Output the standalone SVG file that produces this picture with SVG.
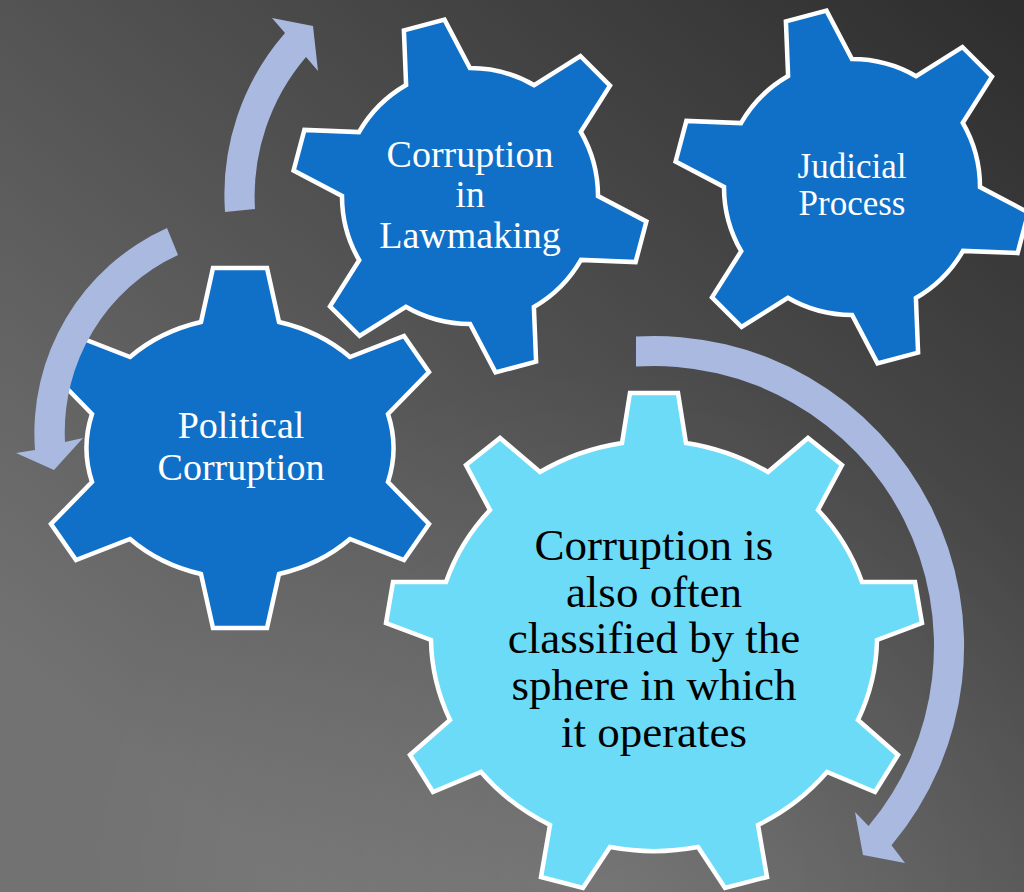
<svg xmlns="http://www.w3.org/2000/svg" width="1024" height="892" viewBox="0 0 1024 892">
<defs>
<linearGradient id="bg" gradientUnits="userSpaceOnUse" x1="1024" y1="0" x2="300" y2="892">
<stop offset="0" stop-color="#2d2d2d"/>
<stop offset="1" stop-color="#727272"/>
</linearGradient>
<radialGradient id="glow" gradientUnits="userSpaceOnUse" cx="620" cy="900" r="540">
<stop offset="0" stop-color="#ffffff" stop-opacity="0.10"/>
<stop offset="1" stop-color="#ffffff" stop-opacity="0"/>
</radialGradient>
<style>
.gear{stroke:#ffffff;stroke-width:4.5;stroke-linejoin:miter}
.dark{fill:#1070C7}
.light{fill:#6BDBF8}
.arrow{fill:#A9B9E0}
.t{font-family:"Liberation Serif","Times New Roman",serif;text-anchor:middle}
.w{fill:#ffffff}
.k{fill:#000000}
</style>
</defs>
<rect width="1024" height="892" fill="url(#bg)"/>
<rect width="1024" height="892" fill="url(#glow)"/>

<g id="node-political">
<path class="gear dark" transform="translate(240,448)" d="M -39,-126 L -27,-180 L 27,-180 L 39,-126 A 157 130 0 0 1 110,-91 L 164,-112 L 189,-76 L 148,-34 A 157 130 0 0 1 148,34 L 189,76 L 164,112 L 110,91 A 157 130 0 0 1 39,126 L 27,180 L -27,180 L -39,126 A 157 130 0 0 1 -110,91 L -164,112 L -189,76 L -148,34 A 157 130 0 0 1 -148,-34 L -189,-76 L -164,-112 L -110,-91 A 157 130 0 0 1 -39,-126 Z"/>
<text class="t w" font-size="38"><tspan x="241" y="438">Political</tspan><tspan x="241" y="480">Corruption</tspan></text>
</g>

<g id="node-lawmaking">
<path class="gear dark" transform="translate(470,196)" d="M -63.9,-111 L -66.1,-165.6 L -25.5,-176.4 L -0.1,-128 A 128 128 0 0 1 64.2,-110.8 L 110.4,-140 L 140,-110.4 L 110.8,-64.2 A 128 128 0 0 1 128,0.1 L 176.4,25.5 L 165.6,66.1 L 111,63.9 A 128 128 0 0 1 63.9,111 L 66.1,165.6 L 25.5,176.4 L 0.1,128 A 128 128 0 0 1 -64.2,110.8 L -110.4,140 L -140,110.4 L -110.8,64.2 A 128 128 0 0 1 -128,-0.1 L -176.4,-25.5 L -165.6,-66.1 L -111,-63.9 A 128 128 0 0 1 -63.9,-111 Z"/>
<text class="t w" font-size="38"><tspan x="470" y="167">Corruption</tspan><tspan x="470" y="207">in</tspan><tspan x="470" y="248">Lawmaking</tspan></text>
</g>

<g id="node-judicial">
<path class="gear dark" transform="translate(852,187)" d="M -63.9,-111 L -66.1,-165.6 L -25.5,-176.4 L -0.1,-128 A 128 128 0 0 1 64.2,-110.8 L 110.4,-140 L 140,-110.4 L 110.8,-64.2 A 128 128 0 0 1 128,0.1 L 176.4,25.5 L 165.6,66.1 L 111,63.9 A 128 128 0 0 1 63.9,111 L 66.1,165.6 L 25.5,176.4 L 0.1,128 A 128 128 0 0 1 -64.2,110.8 L -110.4,140 L -140,110.4 L -110.8,64.2 A 128 128 0 0 1 -128,-0.1 L -176.4,-25.5 L -165.6,-66.1 L -111,-63.9 A 128 128 0 0 1 -63.9,-111 Z"/>
<text class="t w" font-size="35"><tspan x="852" y="178">Judicial</tspan><tspan x="852" y="215">Process</tspan></text>
</g>

<g id="node-sphere">
<path class="gear light" d="M 622,443 L 630,393 L 678,393 L 686,443 A 222 206 0 0 1 768,472 L 808,438 L 842,465 L 818,510 A 222 206 0 0 1 862,582 L 915,582 L 922,623 L 877,640 A 222 206 0 0 1 858,720 L 898,755 L 875,792 L 827,772 A 222 206 0 0 1 758,825 L 767,877 L 725,888 L 698,847 A 222 206 0 0 1 610,847 L 583,888 L 541,877 L 550,825 A 222 206 0 0 1 481,772 L 433,792 L 410,755 L 450,720 A 222 206 0 0 1 431,640 L 386,623 L 393,582 L 446,582 A 222 206 0 0 1 490,510 L 466,465 L 500,438 L 540,472 A 222 206 0 0 1 622,443 Z"/>
<text class="t k" font-size="45"><tspan x="654" y="560">Corruption is</tspan><tspan x="654" y="607">also often</tspan><tspan x="654" y="653">classified by the</tspan><tspan x="654" y="700">sphere in which</tspan><tspan x="654" y="747">it operates</tspan></text>
</g>

<g id="connectors">
<path class="arrow" d="M 225,212 A 246 246 0 0 1 285,33 L 272,18 L 313,26 L 318,71 L 306,57 A 215 215 0 0 0 255,209 Z"/>
<path class="arrow" d="M 167,228 A 225 225 0 0 0 35,450 L 16,453 L 54,470 L 83,438 L 65,442 A 195 195 0 0 1 178,255 Z"/>
<path class="arrow" d="M 636,336.5 A 310 310 0 0 1 891.5,845.3 L 905,863 L 863,855 L 855,812 L 868.5,826 A 280 280 0 0 0 636,366.6 Z"/>
</g>
</svg>
